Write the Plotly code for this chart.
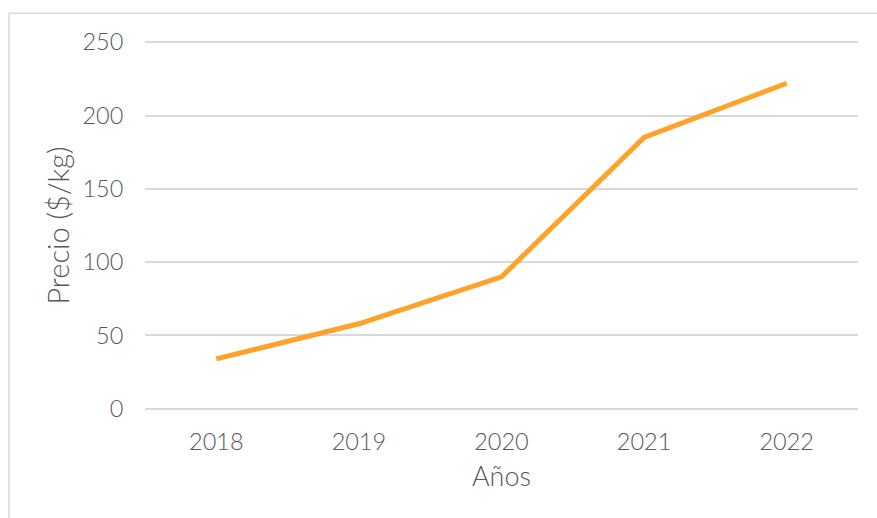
import plotly.graph_objects as go

years = ["2018", "2019", "2020", "2021", "2022"]
prices = [34, 58, 90, 185, 222]
y_ticks = [0, 50, 100, 150, 200, 250]

W, H = 877, 518
# plot area: x 145..858, y 42 (value 250) .. 409 (value 0)
pad_units = 1.5
px_per_unit = (409 - 42) / 250
pad_px = pad_units * px_per_unit
L, R = 145, 19
T = 42 - pad_px
B = (H - 409) - pad_px

fig = go.Figure()
fig.add_trace(go.Scatter(
    x=years, y=prices, mode="lines",
    line=dict(color="#FFA229", width=5),
    hoverinfo="x+y",
))

font_family = "Lato, 'Open Sans', sans-serif"
pw = W - L - R
ph = H - T - B
tick_font = dict(family=font_family, size=23.5, color="#595959", weight=300)
xtitle_font = dict(family=font_family, size=27, color="#595959", weight=300)
ytitle_font = dict(family=font_family, size=29, color="#595959", weight=300)

fig.update_layout(
    width=W, height=H,
    margin=dict(l=L, r=R, t=T, b=B, pad=0),
    paper_bgcolor="white", plot_bgcolor="white",
    showlegend=False,
    font=dict(family=font_family, color="#595959", size=23, weight=300),
    xaxis=dict(
        type="category", range=[-0.5, 4.5],
        showgrid=False, zeroline=False, showline=False,
        ticks="outside", ticklen=10, tickcolor="rgba(0,0,0,0)",
        tickfont=tick_font,
        title=dict(text="Años", font=xtitle_font, standoff=12),
        fixedrange=True,
    ),
    yaxis=dict(
        range=[-pad_units, 250 + pad_units], tickvals=y_ticks,
        showgrid=True, gridcolor="#D9D9D9", gridwidth=1.5,
        zeroline=False, showline=False,
        ticks="outside", ticklen=16, tickcolor="rgba(0,0,0,0)",
        tickfont=tick_font,
        title=dict(text="Precio ($/kg)", font=ytitle_font, standoff=4),
        fixedrange=True,
    ),
    shapes=[dict(
        type="rect", xref="paper", yref="paper",
        x0=(9 - L) / pw, x1=(W + 5 - L) / pw,
        y0=(H - B - (H + 5)) / ph, y1=(H - B - 13) / ph,
        line=dict(color="#D9D9D9", width=1.5), fillcolor="rgba(0,0,0,0)",
        layer="below",
    )],
)

fig.write_html(
    "out.html",
    config={"displayModeBar": False},
    post_script="document.body.style.margin='0';document.body.style.overflow='hidden';",
)
